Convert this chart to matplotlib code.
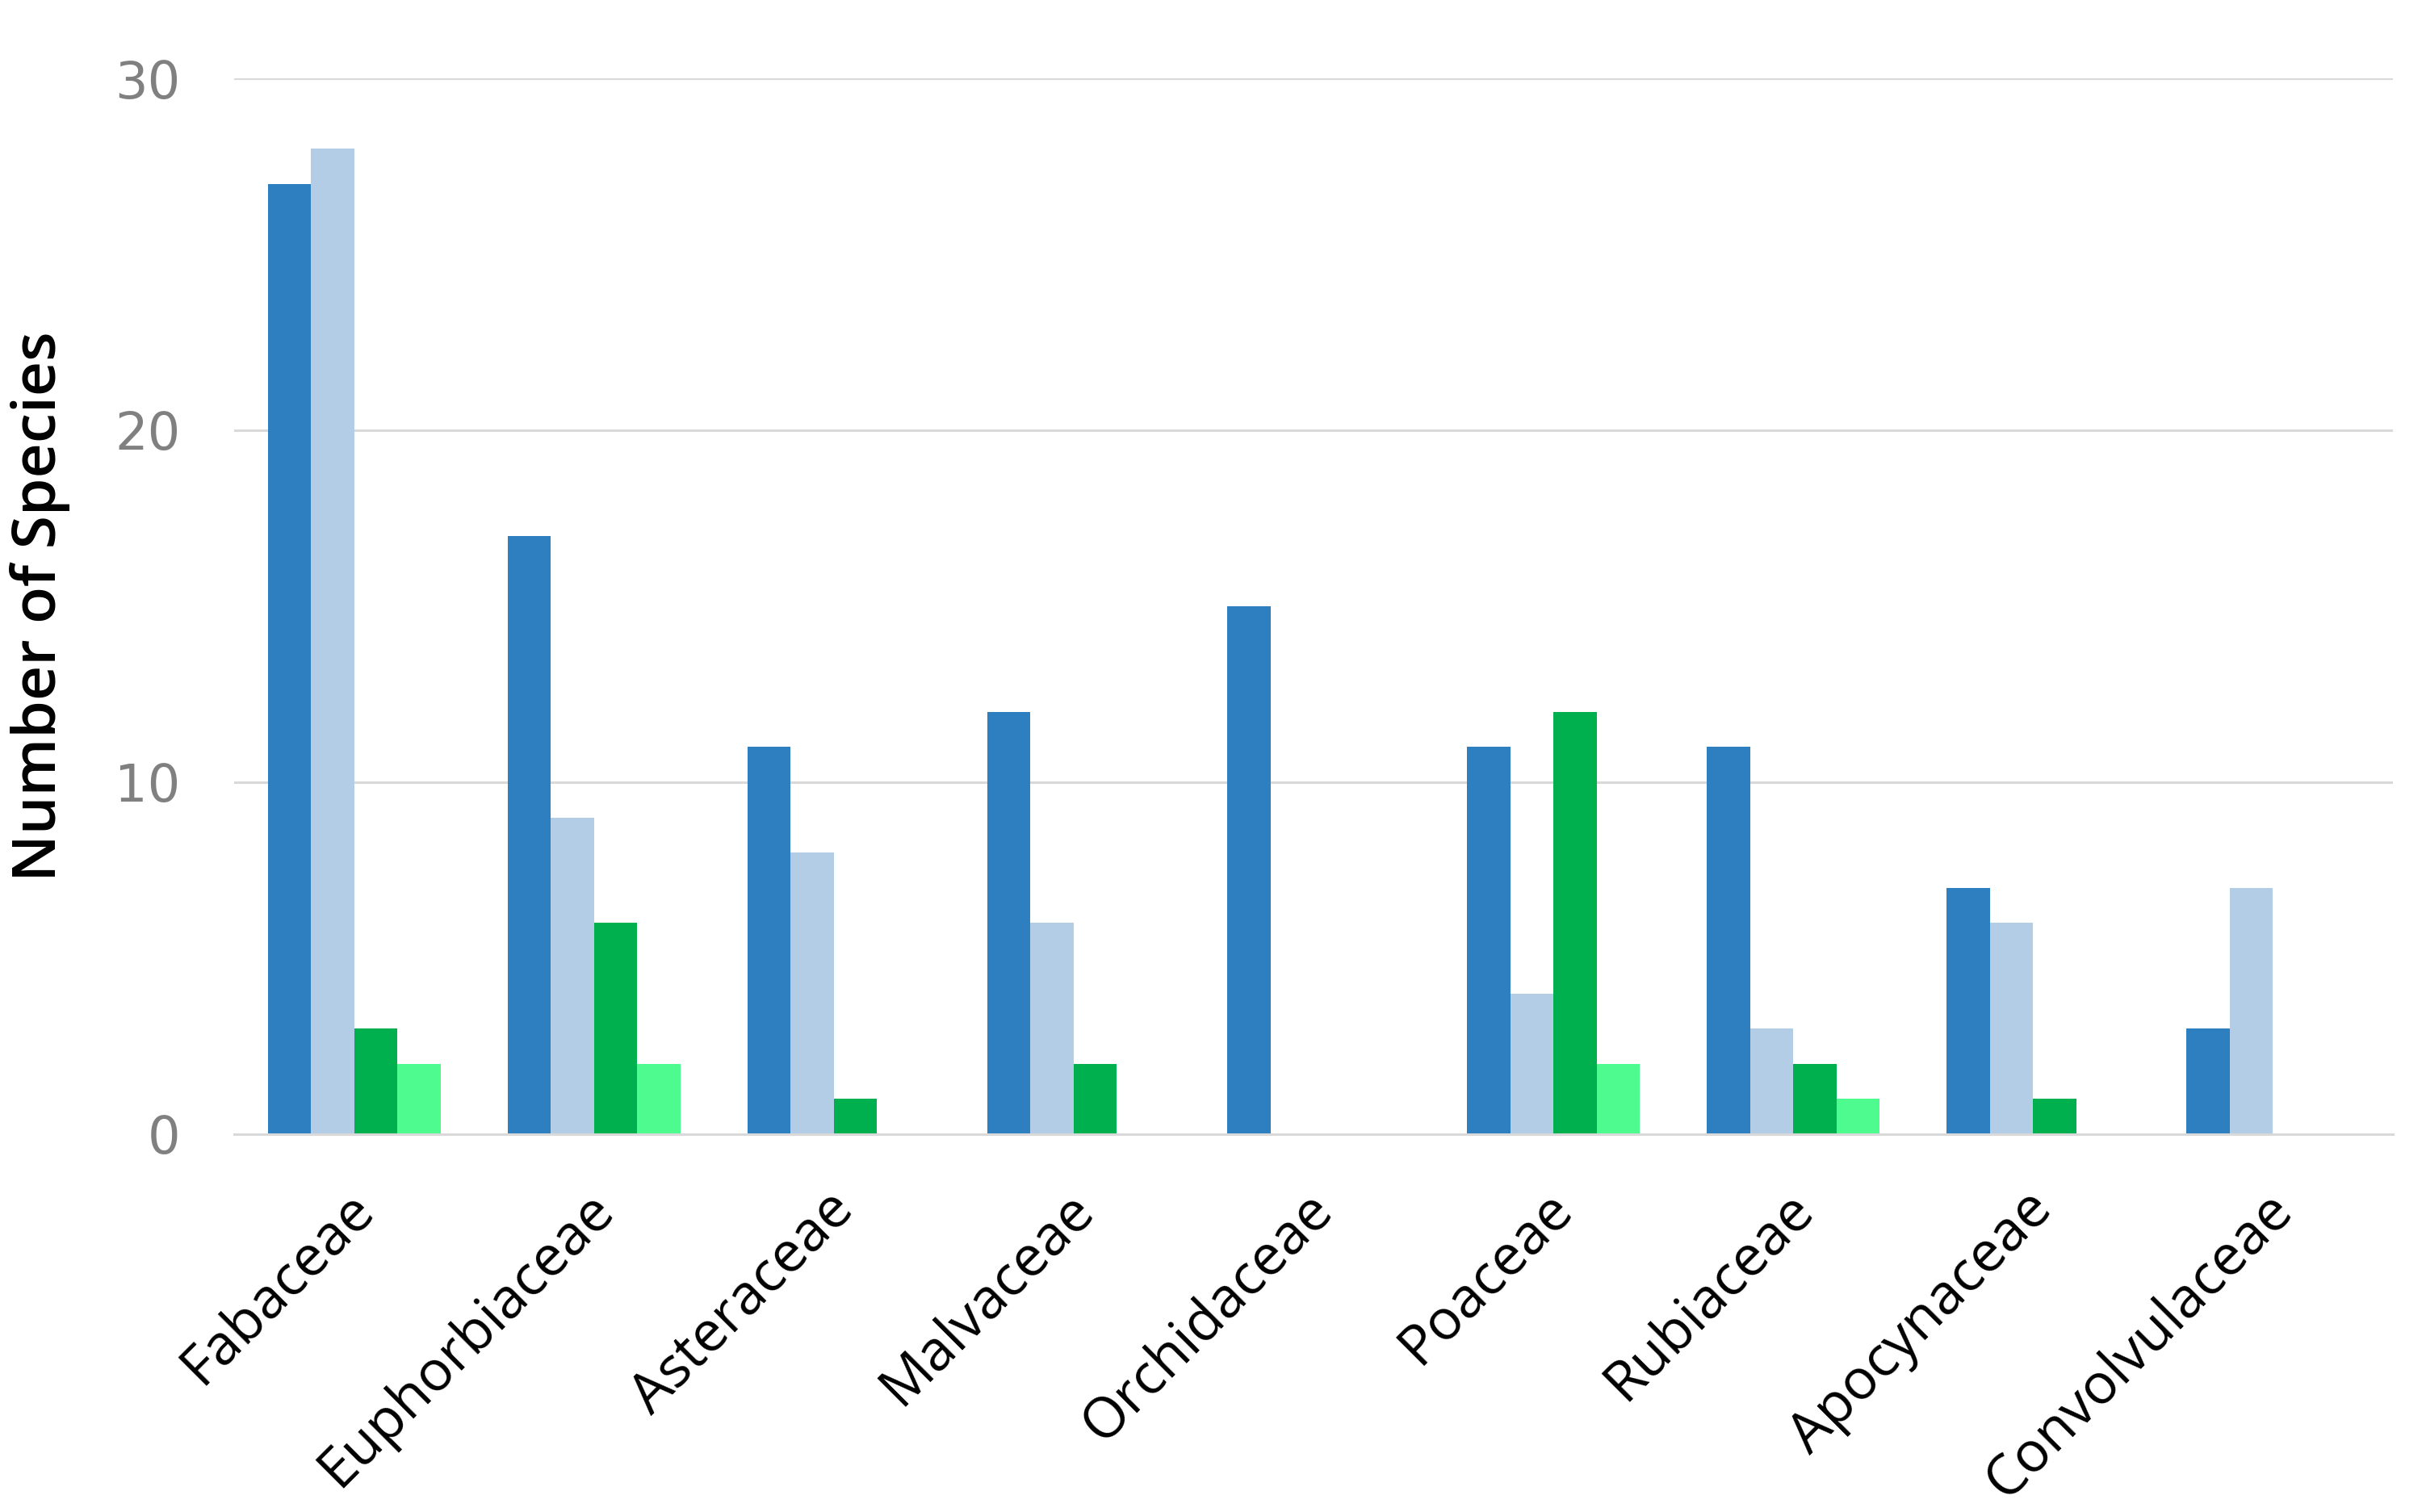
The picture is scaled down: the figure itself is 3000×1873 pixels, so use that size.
import numpy as np
import matplotlib
matplotlib.use('Agg')
import matplotlib.pyplot as plt
import matplotlib.transforms as mtransforms

plt.rcParams['font.family'] = ['Open Sans', 'DejaVu Sans']

families = ['Fabaceae', 'Euphorbiaceae', 'Asteraceae', 'Malvaceae', 'Orchidaceae',
            'Poaceae', 'Rubiaceae', 'Apocynaceae', 'Convolvulaceae']
series_a = [27, 17, 11, 12, 15, 11, 11, 7, 3]
series_b = [28, 9, 8, 6, 0, 4, 3, 6, 7]
series_c = [3, 6, 1, 2, 0, 12, 2, 1, 0]
series_d = [2, 2, 0, 0, 0, 2, 1, 0, 0]
yticks = [0, 10, 20, 30]

colors = ['#2E7FC0', '#B3CDE6', '#00B04F', '#4DFB8E']

fig = plt.figure(figsize=(15, 9.365), dpi=200)
ax = fig.add_axes([0.0967, 0.2499, 0.8913, 0.6983])

x = np.arange(len(families))
w = 0.18
for i, (vals, col) in enumerate(zip([series_a, series_b, series_c, series_d], colors)):
    ax.bar(x + (i - 1.5) * w, vals, width=w, color=col, zorder=3)

ax.set_xlim(-0.5, len(families) - 0.5)
ax.set_ylim(0, 30)
ax.yaxis.grid(True, color='#D9D9D9', linewidth=1.1, zorder=0)
for s in ['top', 'right', 'left']:
    ax.spines[s].set_visible(False)
ax.spines['bottom'].set_color('#D9D9D9')
ax.spines['bottom'].set_linewidth(1.1)
ax.spines['bottom'].set_zorder(4)

ax.set_yticks(yticks)
ax.set_yticklabels([str(v) for v in yticks], fontfamily='DejaVu Sans',
                   fontsize=23, color='#808080')
ax.tick_params(axis='y', length=0, pad=24)

ax.set_xticks(x)
ax.set_xticklabels(families, rotation=45, ha='right', rotation_mode='anchor',
                   fontsize=25, color='black', fontfamily='Open Sans')
ax.tick_params(axis='x', length=0, pad=21)
# nudge the slanted names a little left, as in the original
shift = mtransforms.ScaledTranslation(-4 / 72, 0, fig.dpi_scale_trans)
for lab in ax.get_xticklabels():
    lab.set_transform(lab.get_transform() + shift)

ax.set_ylabel('Number of Species', fontsize=27, fontweight='semibold', labelpad=20)

fig.savefig('out.png', dpi=200)
